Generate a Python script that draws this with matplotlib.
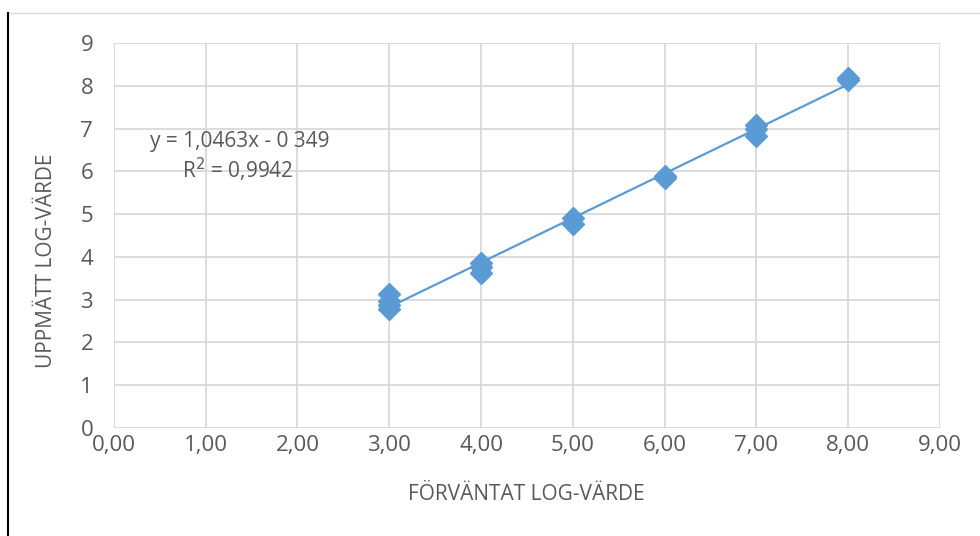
import numpy as np
import matplotlib
matplotlib.use('Agg')
import matplotlib.pyplot as plt
from matplotlib.lines import Line2D

plt.rcParams['font.family'] = ['Open Sans', 'DejaVu Sans']

expected = [3, 3, 3, 3, 4, 4, 4, 5, 5, 6, 6, 7, 7, 7, 8, 8]
measured = [3.13, 2.97, 2.88, 2.77, 3.86, 3.76, 3.62, 4.9, 4.78, 5.9, 5.85, 7.08, 7.0, 6.82, 8.19, 8.14]
x_ticks = [0, 1, 2, 3, 4, 5, 6, 7, 8, 9]
y_ticks = [0, 1, 2, 3, 4, 5, 6, 7, 8, 9]
eq_text = "y = 1,0463x - 0 349"
r2_text = "R$^2$ = 0,9942"

BLUE = '#5B9BD5'
TXT = '#595959'
GRID = '#D9D9D9'

fig = plt.figure(figsize=(9.8, 5.36), dpi=100, facecolor='white')
ax = fig.add_axes([0.1163, 0.2015, 0.8427, 0.7183])

# trendline from least squares fit
k, m = np.polyfit(expected, measured, 1)
xl = np.array([min(expected), max(expected)])
ax.plot(xl, k * xl + m, color=BLUE, linewidth=1.6, zorder=2)

ax.plot(expected, measured, linestyle='none', marker='D', markersize=11,
        color=BLUE, markeredgecolor=BLUE, zorder=3)

ax.set_xlim(0, 9)
ax.set_ylim(0, 9)
ax.set_xticks(x_ticks)
ax.set_yticks(y_ticks)
ax.set_xticklabels([f"{v:.2f}".replace('.', ',') for v in x_ticks])
ax.set_yticklabels([str(v) for v in y_ticks])
ax.tick_params(length=0, labelsize=16, labelcolor=TXT)
ax.tick_params(axis='y', pad=15)
ax.tick_params(axis='x', pad=5)
ax.grid(True, color=GRID, linewidth=1.3)
ax.set_axisbelow(True)
for s in ax.spines.values():
    s.set_visible(False)

fig.text(526 / 980, 1 - 495 / 536, "FÖRVÄNTAT LOG-VÄRDE", fontsize=15, color=TXT,
         ha='center', va='center')
fig.text(46 / 980, 1 - 261 / 536, "UPPMÄTT LOG-VÄRDE", fontsize=15, color=TXT,
         ha='center', va='center', rotation=90)

ax.text(0.39, 6.7, eq_text, fontsize=15, color=TXT, ha='left', va='center')
ax.text(1.96, 6.03, r2_text, fontsize=15, color=TXT, ha='right', va='center')

# chart frame edges
fig.add_artist(Line2D([8 / 980, 1], [1 - 13 / 536] * 2, color='#D9D9D9', linewidth=1))
fig.add_artist(Line2D([8 / 980] * 2, [0, 1 - 13 / 536], color='black', linewidth=1.5))

fig.savefig('out.png', dpi=100, facecolor='white')
